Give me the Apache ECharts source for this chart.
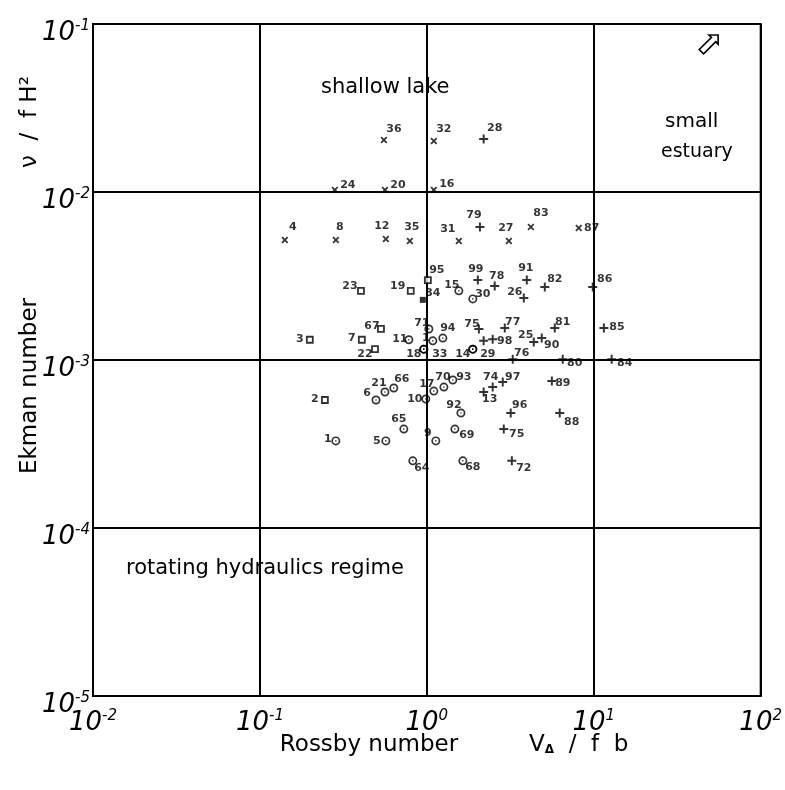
<!DOCTYPE html>
<html><head><meta charset="utf-8">
<script src="https://cdn.jsdelivr.net/npm/echarts@6/dist/echarts.min.js"></script>
<style>html,body{margin:0;padding:0;background:#fff}#c{width:785px;height:790px}</style>
</head><body><div id="c"></div>
<script>
// ---- data: [Rossby number, Ekman number, station label]
const crossPoints = [
  [0.553,0.0204,'36'],[1.101,0.0201,'32'],[0.281,0.0103,'24'],[0.561,0.0103,'20'],
  [1.101,0.0103,'16'],[0.141,0.00518,'4'],[0.285,0.00518,'8'],[0.568,0.00525,'12'],
  [0.791,0.00511,'35'],[1.555,0.00511,'31'],[3.10,0.00511,'27'],[4.20,0.00619,'83'],
  [8.13,0.00611,'87']
];
const plusPoints = [
  [2.19,0.0207,'28'],[2.08,0.00619,'79'],[2.02,0.00299,'99'],[2.55,0.00276,'78'],
  [3.97,0.00299,'91'],[5.09,0.00272,'82'],[9.86,0.00272,'86'],[3.81,0.00234,'26'],
  [2.05,0.00153,'75'],[2.93,0.00155,'77'],[5.84,0.00155,'81'],[11.5,0.00155,'85'],
  [2.19,0.00130,''],[2.48,0.00133,'98'],[4.37,0.00128,'25'],[4.88,0.00135,'90'],
  [3.27,0.00101,'76'],[6.52,0.00101,'80'],[12.8,0.00101,'84'],[2.48,0.000690,'74'],
  [2.19,0.000645,'13'],[2.85,0.000740,'97'],[5.61,0.000750,'89'],[3.18,0.000484,'96'],
  [6.25,0.000484,'88'],[2.89,0.000388,'75'],[3.23,0.000251,'72']
];
const squarePoints = [
  [1.014,0.00299,'95'],[0.403,0.00258,'23'],[0.801,0.00258,'19'],[0.531,0.00153,'67'],
  [0.199,0.00132,'3'],[0.408,0.00132,'7'],[0.489,0.00116,'22'],[0.245,0.000578,'2']
];
const filledSquarePoints = [[0.946,0.00228,'34']];
const circlePoints = [
  [1.555,0.00258,'15'],[1.885,0.00231,'30'],[1.028,0.00153,'71'],[1.086,0.00130,'1'],
  [1.247,0.00135,'94'],[0.780,0.00132,'11'],[0.959,0.00116,'18'],[0.959,0.00116,'33'],
  [1.885,0.00116,'14'],[1.885,0.00116,'29'],[0.496,0.000578,'6'],[0.561,0.000645,'21'],
  [0.634,0.000681,'66'],[0.986,0.000586,'10'],[1.101,0.000653,'17'],[1.265,0.000690,'70'],
  [1.431,0.000760,'93'],[1.600,0.000484,'92'],[0.728,0.000388,'65'],[0.285,0.000330,'1'],
  [0.568,0.000330,'5'],[1.132,0.000330,'9'],[1.472,0.000388,'69'],[0.824,0.000251,'64'],
  [1.643,0.000251,'68']
];
const xTickValues = [0.01,0.1,1,10,100];
const yTickValues = [1e-5,1e-4,1e-3,1e-2,1e-1];

// ---- label placement (pixel offsets from marker centre), parallel to the arrays above
const crossLabelOffsets = [[10,-11],[10,-12],[13,-5],[13,-5],[13,-6],[8,-13],[4,-13],[-4,-13],[2,-14],[-11,-12],[-3,-13],[10,-14],[13,0]];
const plusLabelOffsets = [[11,-11],[-6,-12],[-2,-11],[2,-10],[-1,-12],[10,-8],[12,-8],[-9,-6],[-7,-5],[8,-6],[8,-6],[13,-1],[0,0],[12,2],[-8,-7],[10,7],[9,-6],[12,4],[13,4],[-2,-10],[6,7],[10,-5],[11,2],[9,-8],[12,9],[13,5],[12,7]];
const squareLabelOffsets = [[9,-10],[-11,-5],[-13,-5],[-9,-3],[-10,-1],[-10,-2],[-10,5],[-10,-1]];
const filledSquareLabelOffsets = [[10,-7]];
const circleLabelOffsets = [[-7,-6],[10,-5],[-7,-6],[-7,-3],[5,-10],[-9,-1],[-10,5],[16,5],[-10,5],[15,5],[-9,-7],[-6,-9],[8,-9],[-11,0],[-7,-7],[-1,-10],[11,-3],[-7,-8],[-5,-10],[-8,-2],[-9,0],[-8,-8],[12,6],[9,7],[10,6]];

const PLUS = 'path://M0,3.9H10V6.1H0Z M3.9,0H6.1V10H3.9Z';
const DOTTED_CIRCLE = 'path://M5,0A5,5 0 1,1 4.99,0Z M5,1.9A3.1,3.1 0 1,0 5.01,1.9Z M5,4.1A0.9,0.9 0 1,1 4.99,4.1Z';

function build(points, offsets) {
  return points.map((p, i) => ({
    value: [p[0], p[1]],
    name: p[2],
    label: { offset: offsets[i] }
  }));
}
const labelStyle = {
  show: true, position: 'inside', formatter: p => p.name,
  color: '#000', fontSize: 11, fontWeight: 'bold', fontFamily: 'DejaVu Sans'
};
function sup(v) {
  const e = Math.round(Math.log10(v));
  return '{b|10}{s|' + e + '}';
}
const tickRich = {
  b: { fontSize: 26, fontFamily: 'DejaVu Sans', fontStyle: 'italic', color: '#000' },
  s: { fontSize: 15, fontFamily: 'DejaVu Sans', fontStyle: 'italic', color: '#000', padding: [0, 0, 14, 0] }
};

const chart = echarts.init(document.getElementById('c'));
chart.setOption({
  animation: false,
  backgroundColor: '#fff',
  grid: { left: 93, right: 24, top: 24, bottom: 94, show: true, borderColor: '#000', borderWidth: 2 },
  xAxis: {
    type: 'log', logBase: 10, min: xTickValues[0], max: xTickValues[xTickValues.length - 1],
    axisLine: { show: true, lineStyle: { color: '#000', width: 2 } },
    axisTick: { show: false }, minorTick: { show: false },
    splitLine: { show: true, lineStyle: { color: '#000', width: 2 } },
    axisLabel: { formatter: sup, rich: tickRich, margin: 13 }
  },
  yAxis: {
    type: 'log', logBase: 10, min: yTickValues[0], max: yTickValues[yTickValues.length - 1],
    axisLine: { show: true, lineStyle: { color: '#000', width: 2 } },
    axisTick: { show: false },
    splitLine: { show: true, lineStyle: { color: '#000', width: 2 } },
    axisLabel: { formatter: sup, rich: tickRich, margin: 3, padding: [18, 0, 0, 0] }
  },
  series: [
    { type: 'scatter', data: build(crossPoints, crossLabelOffsets), symbol: PLUS, symbolRotate: 45, symbolSize: 8,
      itemStyle: { color: '#000' }, label: labelStyle },
    { type: 'scatter', data: build(plusPoints, plusLabelOffsets), symbol: PLUS, symbolSize: 9,
      itemStyle: { color: '#000' }, label: labelStyle },
    { type: 'scatter', data: build(squarePoints, squareLabelOffsets), symbol: 'rect', symbolSize: 6,
      itemStyle: { color: '#fff', borderColor: '#000', borderWidth: 1.8 }, label: labelStyle },
    { type: 'scatter', data: build(filledSquarePoints, filledSquareLabelOffsets), symbol: 'rect', symbolSize: 6,
      itemStyle: { color: '#000' }, label: labelStyle },
    { type: 'scatter', data: build(circlePoints, circleLabelOffsets), symbol: DOTTED_CIRCLE, symbolSize: 9,
      itemStyle: { color: '#000' }, label: labelStyle }
  ],
  graphic: [
    { type: 'text', left: 321, top: 77, style: { text: 'shallow lake', font: '21px "DejaVu Sans"', fill: '#000' } },
    { type: 'text', left: 665, top: 112, style: { text: 'small', font: '20px "DejaVu Sans"', fill: '#000' } },
    { type: 'text', left: 661, top: 143, style: { text: 'estuary', font: '19px "DejaVu Sans"', fill: '#000' } },
    { type: 'text', left: 126, top: 558, style: { text: 'rotating hydraulics regime', font: '21px "DejaVu Sans"', fill: '#000' } },
    { type: 'text', x: 707, y: 46, rotation: -Math.PI / 4, style: { text: '⇧', font: '34px "DejaVu Sans"', fill: '#000', align: 'center', verticalAlign: 'middle' } },
    { type: 'text', x: 30, y: 386, rotation: Math.PI / 2, style: { text: 'Ekman number', font: '23px "DejaVu Sans"', fill: '#000', align: 'center', verticalAlign: 'middle' } },
    { type: 'text', x: 30, y: 122, rotation: Math.PI / 2, style: { text: 'ν  /  f H²', font: '23px "DejaVu Sans"', fill: '#000', align: 'center', verticalAlign: 'middle' } },
    { type: 'text', x: 369, y: 745, style: { text: 'Rossby number', font: '23px "DejaVu Sans"', fill: '#000', align: 'center', verticalAlign: 'middle' } },
    { type: 'text', x: 529, y: 745, style: {
        text: '{v|V}{d|Δ}{v|  /  f  b}', align: 'left', verticalAlign: 'middle',
        rich: { v: { font: '23px "DejaVu Sans"', fill: '#000' }, d: { font: 'bold 12px "DejaVu Sans"', fill: '#000', padding: [10, 0, 0, 0] } } } }
  ]
});
</script></body></html>
